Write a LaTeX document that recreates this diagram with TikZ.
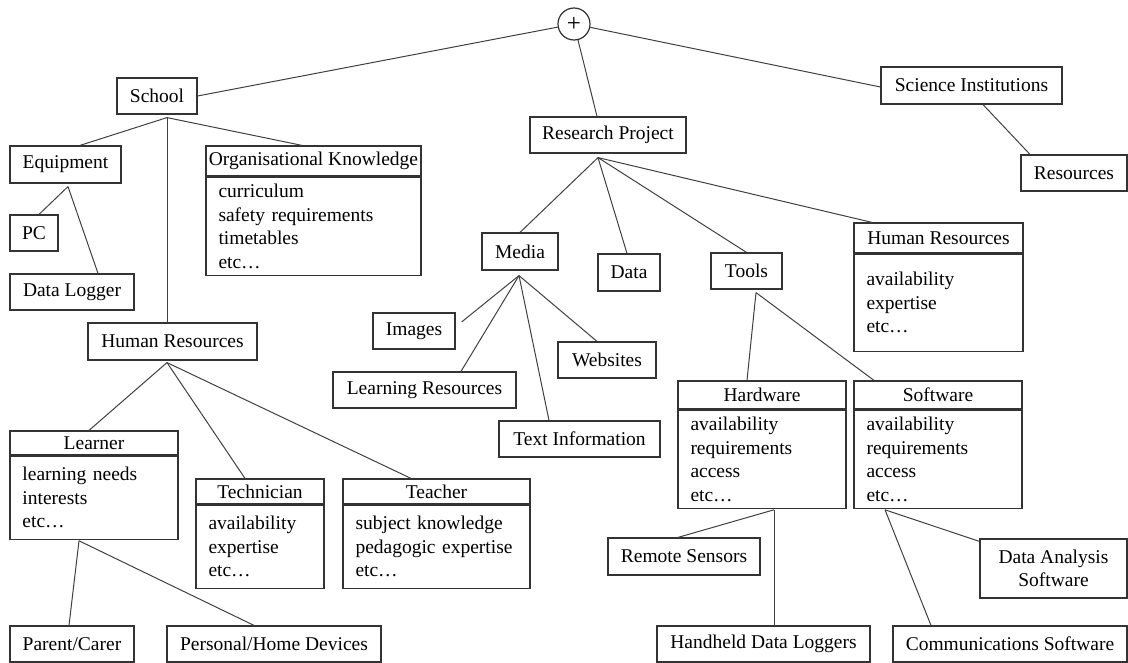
\documentclass[tikz,border=0pt]{standalone}
\usepackage{fontspec}
\setmainfont{Liberation Serif}
\usetikzlibrary{positioning}

\begin{document}
\begin{tikzpicture}[x=1pt, y=-1pt,
    box/.style={draw=black!80, line width=1.2pt, inner sep=0pt, minimum height=36pt,
      font=\fontsize{19.5}{23.5}\selectfont},
    boxhead/.style={box, align=center},
    boxlist/.style={box, anchor=north, inner xsep=12.5pt, inner ysep=0pt, align=left},
    link/.style={draw=black!75, line width=1pt}]
    \useasboundingbox (0,0) rectangle (1128,663);
    % root
    \node[box, circle, minimum size=32pt, font=\fontsize{25}{25}\selectfont] (root) at (574,24) {+};
    % school side
    \node[box, minimum width=80pt] (school) at (157,96) {School};
    \node[box, minimum width=111pt, minimum height=37pt] (equip) at (65.5,164.5) {Equipment};
    \node[box, minimum width=48pt] (pc) at (34,233) {PC};
    \node[box, minimum width=124pt] (logger) at (72,292) {Data Logger};
    \node[boxhead, minimum width=215pt, minimum height=30pt] (orgknow) at (313.5,161) {Organisational Knowledge};
    \node[boxlist, text width=190pt, minimum height=98pt] (orgknowlist) at (orgknow.south)
      {curriculum\\safety requirements\\timetables\\etc…};
    \node[box, minimum width=169pt, minimum height=37pt] (humanres) at (172.5,341.5) {Human Resources};
    % people
    \node[boxhead, minimum width=168pt, minimum height=24pt] (learner) at (94,443) {Learner};
    \node[boxlist, text width=143pt, minimum height=83pt] (learnerlist) at (learner.south)
      {learning needs\\interests\\etc…};
    \node[boxhead, minimum width=128pt, minimum height=25pt] (technician) at (260,491.5) {Technician};
    \node[boxlist, text width=103pt, minimum height=83pt] (technicianlist) at (technician.south)
      {availability\\expertise\\etc…};
    \node[boxhead, minimum width=187pt, minimum height=25pt] (teacher) at (436.5,491.5) {Teacher};
    \node[boxlist, text width=162pt, minimum height=83pt] (teacherlist) at (teacher.south)
      {subject knowledge\\pedagogic expertise\\etc…};
    \node[box, minimum width=124pt] (parent) at (72,644) {Parent/Carer};
    \node[box, minimum width=214pt] (homedev) at (274,644) {Personal/Home Devices};
    % research project side
    \node[box, minimum width=156pt] (project) at (608,135) {Research Project};
    \node[box, minimum width=76pt, minimum height=37pt] (media) at (520,251.5) {Media};
    \node[box, minimum width=62pt, minimum height=37pt] (data) at (629,272.5) {Data};
    \node[box, minimum width=71pt] (tools) at (746.5,271) {Tools};
    \node[boxhead, minimum width=169pt, minimum height=30pt] (projhr) at (938.5,238) {Human Resources};
    \node[boxlist, text width=144pt, minimum height=97pt] (projhrlist) at (projhr.south)
      {availability\\expertise\\etc…};
    \node[box, minimum width=82pt] (images) at (414,331) {Images};
    \node[box, minimum width=183pt] (learnres) at (424.5,390) {Learning Resources};
    \node[box, minimum width=161pt] (textinfo) at (579.5,439) {Text Information};
    \node[box, minimum width=98pt] (websites) at (607,360) {Websites};
    \node[boxhead, minimum width=168pt, minimum height=28pt] (hardware) at (762,395) {Hardware};
    \node[boxlist, text width=143pt, minimum height=98pt] (hardwarelist) at (hardware.south)
      {availability\\requirements\\access\\etc…};
    \node[boxhead, minimum width=168pt, minimum height=28pt] (software) at (938,395) {Software};
    \node[boxlist, text width=143pt, minimum height=98pt] (softwarelist) at (software.south)
      {availability\\requirements\\access\\etc…};
    \node[box, minimum width=152pt, minimum height=37pt] (sensors) at (684,556.5) {Remote Sensors};
    \node[box, minimum width=213pt] (handheld) at (763.5,644) {Handheld Data Loggers};
    \node[boxhead, minimum width=147pt, minimum height=59pt] (analysis) at (1053.5,568.5) {Data Analysis\\Software};
    \node[box, minimum width=234pt] (comms) at (1010,644) {Communications Software};
    % science institutions side
    \node[box, minimum width=181pt, minimum height=37pt] (science) at (971.5,85.5) {Science Institutions};
    \node[box, minimum width=106pt] (resources) at (1074,173) {Resources};

    % branch points
    \coordinate (schoolJ) at ([shift={(10,3)}]school.south);
    \coordinate (equipJ) at ([shift={(2.5,3)}]equip.south);
    \coordinate (humanresJ) at ([shift={(-5.5,2)}]humanres.south);
    \coordinate (learnerJ) at ([shift={(-15,1)}]learnerlist.south);
    \coordinate (projectJ) at ([shift={(-10,4)}]project.south);
    \coordinate (mediaJ) at ([shift={(-1,5)}]media.south);
    \coordinate (toolsJ) at ([shift={(9.5,3)}]tools.south);
    \coordinate (hardwareJ) at ([shift={(12,1)}]hardwarelist.south);
    \coordinate (softwareJ) at ([shift={(-53,1)}]softwarelist.south);

    % connectors
    \draw[link] (root) -- (school.east);
    \draw[link] (root) -- ([shift={(-11,0)}]project.north);
    \draw[link] (root) -- ([shift={(0,1.5)}]science.west);
    \draw[link] ([shift={(11.5,0)}]science.south) -- ([shift={(-44,0)}]resources.north);
    \draw[link] (schoolJ) -- ([shift={(14.5,0)}]equip.north);
    \draw[link] (schoolJ) -- ([shift={(-11.5,0)}]orgknow.north);
    \draw[link] (schoolJ) -- ([shift={(-5.5,0)}]humanres.north);
    \draw[link] (equipJ) -- ([shift={(5,0)}]pc.north);
    \draw[link] (equipJ) -- ([shift={(26,0)}]logger.north);
    \draw[link] (humanresJ) -- ([shift={(-5,0)}]learner.north);
    \draw[link] (humanresJ) -- ([shift={(-15,0)}]technician.north);
    \draw[link] (humanresJ) -- ([shift={(-25.5,0)}]teacher.north);
    \draw[link] (learnerJ) -- ([shift={(-3,0)}]parent.north);
    \draw[link] (learnerJ) -- ([shift={(-20,0)}]homedev.north);
    \draw[link] (projectJ) -- (media.north);
    \draw[link] (projectJ) -- ([shift={(-2,0)}]data.north);
    \draw[link] (projectJ) -- (tools.north);
    \draw[link] (projectJ) -- ([shift={(-66.5,0)}]projhr.north);
    \draw[link] (mediaJ) -- ([shift={(6,-9)}]images.east);
    \draw[link] (mediaJ) -- ([shift={(36.5,0)}]learnres.north);
    \draw[link] (mediaJ) -- ([shift={(-30.5,0)}]textinfo.north);
    \draw[link] (mediaJ) -- ([shift={(-10,0)}]websites.north);
    \draw[link] (toolsJ) -- ([shift={(-15,0)}]hardware.north);
    \draw[link] (toolsJ) -- ([shift={(-64,0)}]software.north);
    \draw[link] (hardwareJ) -- ([shift={(-6,0)}]sensors.north);
    \draw[link] (hardwareJ) -- ([shift={(10.5,0)}]handheld.north);
    \draw[link] (softwareJ) -- ([shift={(0,3)}]analysis.north west);
    \draw[link] (softwareJ) -- ([shift={(-79,0)}]comms.north);
\end{tikzpicture}
\end{document}
